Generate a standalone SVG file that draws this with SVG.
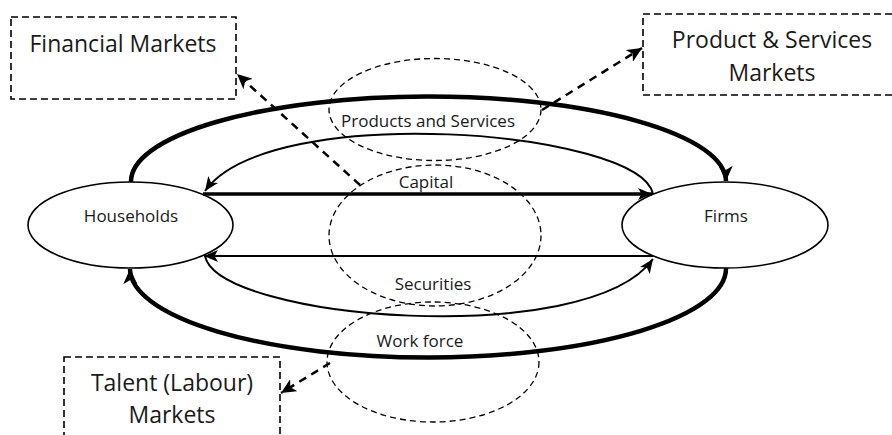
<svg xmlns="http://www.w3.org/2000/svg" width="892" height="435" viewBox="0 0 892 435">
<style>
text{font-family:"Open Sans","Liberation Sans",sans-serif;fill:#1a1a1a}
.big{font-size:23px}
.lbl{font-size:17px}
.box{fill:none;stroke:#000;stroke-width:1.6;stroke-dasharray:7,4}
.node{fill:#fff;stroke:#000;stroke-width:1.6}
.mkt{fill:none;stroke:#000;stroke-width:1.3;stroke-dasharray:6,4}
.thick{fill:none;stroke:#000;stroke-width:4.5}
.mid{fill:none;stroke:#000;stroke-width:3.3}
.thin{fill:none;stroke:#000;stroke-width:2}
.dash{fill:none;stroke:#000;stroke-width:2.5;stroke-dasharray:8,6}
</style>
<defs>
<marker id="ah" markerUnits="userSpaceOnUse" markerWidth="16" markerHeight="14" refX="15" refY="7" orient="auto" viewBox="0 0 16 14">
<path d="M0,0 L15,7 L0,14 L4,7 z" fill="#000"/>
</marker>
<marker id="ahs" markerUnits="userSpaceOnUse" markerWidth="15" markerHeight="12" refX="14" refY="6" orient="auto" viewBox="0 0 15 12">
<path d="M0,0 L14,6 L0,12 L3.5,6 z" fill="#000"/>
</marker>
</defs>
<g id="financial-markets">
<rect class="box" x="11" y="17" width="225" height="82"/>
<text class="big" x="123" y="52" text-anchor="middle">Financial Markets</text>
</g>
<g id="product-services-markets">
<rect class="box" x="643" y="14" width="260" height="81"/>
<text class="big" x="772" y="48" text-anchor="middle">Product &amp; Services</text>
<text class="big" x="772" y="81" text-anchor="middle">Markets</text>
</g>
<g id="talent-markets">
<rect class="box" x="64" y="357" width="216" height="100"/>
<text class="big" x="172" y="391" text-anchor="middle">Talent (Labour)</text>
<text class="big" x="172" y="423" text-anchor="middle">Markets</text>
</g>
<g id="market-ellipses">
<ellipse class="mkt" cx="435" cy="109.5" rx="106" ry="51"/>
<ellipse class="mkt" cx="435" cy="235.5" rx="106" ry="70.5"/>
<ellipse class="mkt" cx="433" cy="362" rx="106" ry="60"/>
</g>
<g id="households">
<ellipse class="node" cx="130.5" cy="225" rx="102.5" ry="43"/>
<text class="lbl" x="131" y="222" text-anchor="middle">Households</text>
</g>
<g id="firms">
<ellipse class="node" cx="725" cy="225" rx="103" ry="43"/>
<text class="lbl" x="726" y="222" text-anchor="middle">Firms</text>
</g>
<g id="connectors">
<path class="thick" d="M131,182 A297.5,85 0 0 1 726,181" marker-end="url(#ah)"/>
<path class="thin" d="M653,194 C640,130 270,100 205,191" marker-end="url(#ahs)"/>
<path class="mid" d="M203,194 L652,194" marker-end="url(#ahs)"/>
<path class="thin" d="M653,256 L204,256" marker-end="url(#ahs)"/>
<path class="thin" d="M205,256 C218,320 588,350 653,259" marker-end="url(#ahs)"/>
<path class="thick" d="M726,268 A298,89 0 0 1 130,269" marker-end="url(#ah)"/>
<path class="dash" d="M360,185 L237,74" marker-end="url(#ah)"/>
<path class="dash" d="M542,110 L642,48" marker-end="url(#ah)"/>
<path class="dash" d="M330,363 L281,393" marker-end="url(#ah)"/>
</g>
<g id="flow-labels">
<text class="lbl" x="428" y="127" text-anchor="middle">Products and Services</text>
<text class="lbl" x="426" y="188" text-anchor="middle">Capital</text>
<text class="lbl" x="433" y="290" text-anchor="middle">Securities</text>
<text class="lbl" x="420" y="347" text-anchor="middle">Work force</text>
</g>
</svg>
